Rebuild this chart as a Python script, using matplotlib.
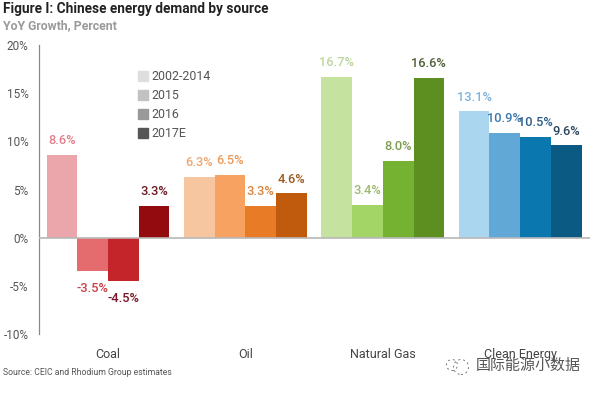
import matplotlib
matplotlib.use("Agg")
import matplotlib.pyplot as plt
from matplotlib.patches import Patch, Ellipse
import numpy as np

categories = ["Coal", "Oil", "Natural Gas", "Clean Energy"]
periods = ["2002-2014", "2015", "2016", "2017E"]
values = {
    "Coal": [8.6, -3.5, -4.5, 3.3],
    "Oil": [6.3, 6.5, 3.3, 4.6],
    "Natural Gas": [16.7, 3.4, 8.0, 16.6],
    "Clean Energy": [13.1, 10.9, 10.5, 9.6],
}
bar_colors = {
    "Coal": ["#EBA6AC", "#E46B6E", "#C4252B", "#930B0F"],
    "Oil": ["#F6C6A0", "#F7A261", "#E87B26", "#C05A0C"],
    "Natural Gas": ["#C6E29F", "#A3D466", "#76B232", "#5C8F1F"],
    "Clean Energy": ["#ABD6F0", "#62A8D6", "#0A77AE", "#0B5A84"],
}
label_colors = {
    "Coal": ["#E07F8A", "#C9404C", "#7A1526", "#6B1A22"],
    "Oil": ["#EFA672", "#EC9A58", "#D98540", "#9A5A20"],
    "Natural Gas": ["#BBD79A", "#9DBB70", "#7E9C50", "#4F5F35"],
    "Clean Energy": ["#7FB2DC", "#3D78AC", "#2F5F8C", "#2B4560"],
}
legend_colors = ["#DEDEDE", "#C2C2C2", "#999999", "#555555"]
yticks = [-10, -5, 0, 5, 10, 15, 20]

W, H = 600, 393
plt.rcParams["font.family"] = ["Roboto", "DejaVu Sans"]

fig = plt.figure(figsize=(W / 100, H / 100), dpi=100, facecolor="white")
ax = fig.add_axes([39.5 / W, 1 - 334 / H, (590 - 39.5) / W, (334 - 45) / H])
ax.set_ylim(-10, 20)
ax.set_xlim(-0.4985, 3.508)

width = 0.2235
for i, cat in enumerate(categories):
    for j, v in enumerate(values[cat]):
        x = i + (j - 1.5) * width
        ax.bar(x, v, width=width, color=bar_colors[cat][j], linewidth=0, zorder=2)
        ax.annotate(f"{v:.1f}%", (x, v), xytext=(0, 5.5 if v >= 0 else -8),
                    textcoords="offset points", ha="center",
                    va="bottom" if v >= 0 else "top",
                    color=label_colors[cat][j], fontsize=9.3, fontweight="medium", zorder=3)

for s in ("top", "right", "bottom"):
    ax.spines[s].set_visible(False)
ax.spines["left"].set_color("#8A8A8A")
ax.spines["left"].set_linewidth(0.9)
ax.axhline(0, color="#B8B8B8", lw=1.2, zorder=3)
ax.set_yticks(yticks)
ax.set_yticklabels([f"{t}%" for t in yticks], fontsize=8.5, color="#555555")
ax.tick_params(axis="y", length=0, pad=8)
ax.set_xticks(range(len(categories)))
ax.set_xticklabels(categories, fontsize=9, color="#444444")
ax.tick_params(axis="x", length=0, pad=10)
ax.patch.set_alpha(0)

handles = [Patch(color=c, label=p) for c, p in zip(legend_colors, periods)]
ax.legend(handles=handles, loc="upper left", bbox_to_anchor=(0.179, 0.912),
          frameon=False, fontsize=8.9, labelcolor="#555555",
          handlelength=0.8, handleheight=0.8, handletextpad=0.3,
          labelspacing=0.48, borderpad=0, borderaxespad=0)

fig.text(3 / W, 1 - 9.5 / H, "Figure I: Chinese energy demand by source", fontsize=9.8,
         fontweight="bold", color="#222222", va="center", ha="left")
fig.text(3 / W, 1 - 26 / H, "YoY Growth, Percent", fontsize=8.8, fontweight="bold",
         color="#9A9A9A", va="center", ha="left")
fig.text(3 / W, 1 - 372.5 / H, "Source: CEIC and Rhodium Group estimates", fontsize=6.2,
         color="#555555", va="center", ha="left")

# watermark
fig.text(476 / W, 1 - 366 / H, "国际能源小数据", fontsize=10.8, color="#555555",
         family=["Noto Sans CJK SC", "DejaVu Sans"], va="center", ha="left")
for cx, cy, r in [(452, 365, 5.5), (461, 367, 7.5)]:
    fig.add_artist(Ellipse((cx / W, 1 - cy / H), 2 * r / W, 2 * r / H,
                           transform=fig.transFigure, fill=False,
                           ec="#777777", lw=0.7, ls=(0, (2, 3))))

fig.savefig("out.png", dpi=100)
